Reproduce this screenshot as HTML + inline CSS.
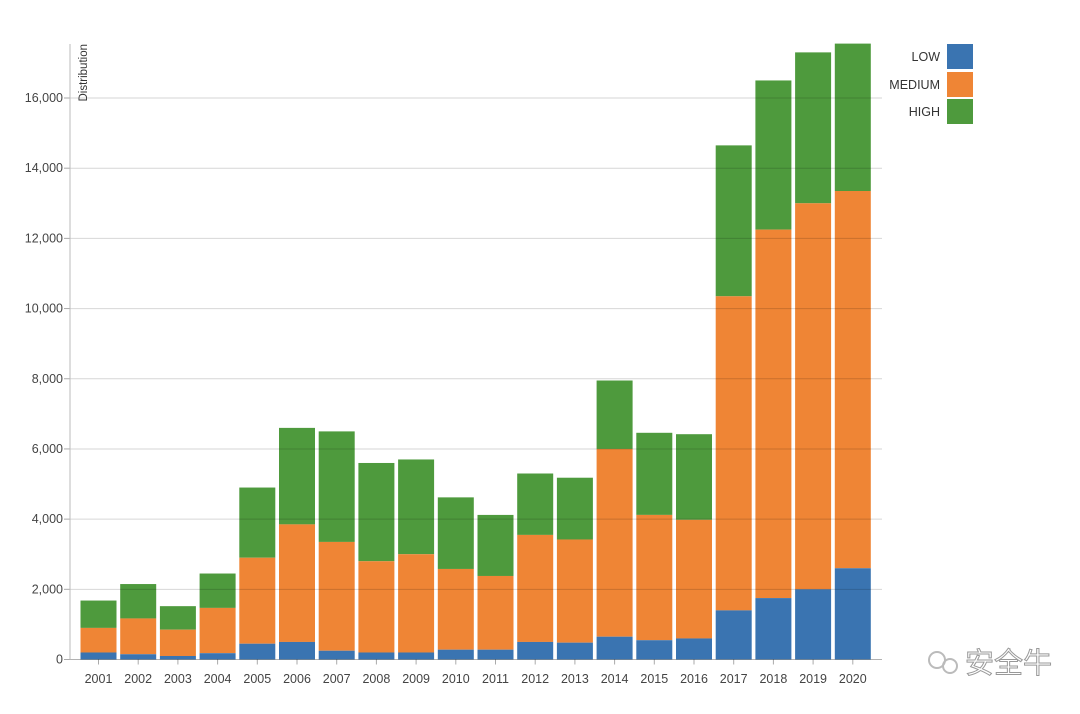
<!DOCTYPE html>
<html><head><meta charset="utf-8"><style>
html,body{margin:0;padding:0;background:#fff;}
svg{display:block;font-family:"Liberation Sans","Noto Sans CJK SC",sans-serif;}
</style></head><body>
<svg id="c" width="1080" height="714" viewBox="0 0 1080 714"></svg>
<script>
const d=[[200,900,1680],[150,1170,2150],[100,850,1520],[180,1470,2450],[450,2900,4900],[500,3850,6600],[250,3350,6500],[200,2800,5600],[200,3000,5700],[280,2580,4620],[280,2380,4120],[500,3550,5300],[480,3420,5180],[650,6000,7950],[550,4120,6460],[600,3980,6420],[1400,10350,14650],[1750,12250,16500],[2000,13000,17300],[2600,13350,17550]];
const y0=659.5,k=(659.5-98)/16000;
const Y=v=>y0-v*k;
let s='';
const B='#3a74b1',O='#ef8535',G='#4e9a3d';
for(let i=0;i<20;i++){
 const x=80.5+i*39.7,w=36;
 const [l,m,t]=d[i];
 s+=`<rect x="${x}" y="${Y(t)}" width="${w}" height="${Y(m)-Y(t)}" fill="${G}"/>`;
 s+=`<rect x="${x}" y="${Y(m)}" width="${w}" height="${Y(l)-Y(m)}" fill="${O}"/>`;
 s+=`<rect x="${x}" y="${Y(l)}" width="${w}" height="${y0-Y(l)}" fill="${B}"/>`;
 s+=`<line x1="${x+w/2}" y1="${y0}" x2="${x+w/2}" y2="${y0+5}" stroke="#aaa"/>`;
 s+=`<text x="${x+w/2}" y="683" font-size="12.5" fill="#444" text-anchor="middle">${2001+i}</text>`;
}
for(let v=0;v<=16000;v+=2000){
 const y=Y(v);
 s+=`<line x1="70" y1="${y}" x2="882" y2="${y}" stroke="#000" stroke-opacity="${v?0.16:0.3}"/>`;
 s+=`<line x1="64" y1="${y}" x2="70" y2="${y}" stroke="#aaa"/>`;
 s+=`<text x="63" y="${y+4}" font-size="12.5" fill="#444" text-anchor="end">${v.toLocaleString('en-US')}</text>`;
}
s+=`<line x1="70" y1="44" x2="70" y2="${y0}" stroke="#bbb"/>`;
s+=`<text transform="translate(87,44) rotate(-90)" font-size="11.5" fill="#333" text-anchor="end">Distribution</text>`;
[['LOW',B,56],['MEDIUM',O,84],['HIGH',G,111]].forEach(([n,c,y])=>{
 s+=`<text x="940" y="${y+5}" font-size="12.5" fill="#333" text-anchor="end">${n}</text>`;
 s+=`<rect x="947" y="${y-12}" width="26" height="25" fill="${c}"/>`;
});
s+=`<circle cx="937" cy="660" r="8" fill="none" stroke="#bbb" stroke-width="2"/><circle cx="950" cy="666" r="7" fill="none" stroke="#bbb" stroke-width="2"/>`;
s+=`<text x="965" y="673" font-size="29" fill="#fff" stroke="#999" stroke-width="1">安全牛</text>`;
document.getElementById('c').innerHTML=s;
</script>
</body></html>
